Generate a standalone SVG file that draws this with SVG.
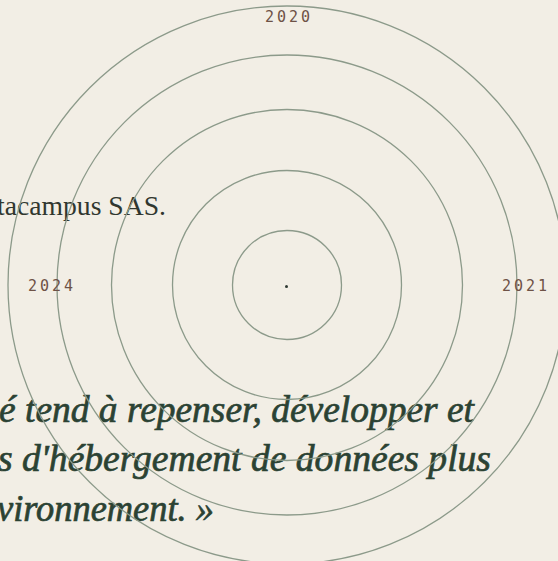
<svg xmlns="http://www.w3.org/2000/svg" width="558" height="561" viewBox="0 0 558 561">
<style>
.ring{fill:none;stroke:#8c9a8a;stroke-width:1.3}
.yr{font-family:"DejaVu Sans Mono",monospace;font-size:15px;fill:#6e5246;letter-spacing:3px}
.quote{font-family:"Liberation Serif",serif;font-style:italic;font-weight:normal;font-size:38px;fill:#2b4233;stroke:#2b4233;stroke-width:0.7}
.body{font-family:"Liberation Serif",serif;font-size:27.5px;fill:#30372f}
</style>
<rect width="558" height="561" fill="#f2eee5"/>
<text class="body" x="-3" y="215" textLength="169" lengthAdjust="spacingAndGlyphs">tacampus SAS.</text>
<g id="quote">
<text class="quote" x="-1" y="422" textLength="475" lengthAdjust="spacingAndGlyphs">é tend à repenser, développer et</text>
<text class="quote" x="-2" y="471" textLength="493" lengthAdjust="spacingAndGlyphs">s d'hébergement de données plus</text>
<text class="quote" x="-3" y="521" textLength="217" lengthAdjust="spacingAndGlyphs">vironnement. »</text>
</g>
<g id="rings">
<circle class="ring" cx="287" cy="285" r="54.5"/>
<circle class="ring" cx="287" cy="285" r="114.5"/>
<circle class="ring" cx="287" cy="285" r="175.5"/>
<circle class="ring" cx="287" cy="285" r="230"/>
<circle class="ring" cx="287" cy="285" r="279"/>
<circle cx="286.5" cy="286.5" r="1.5" fill="#2f3a33"/>
</g>
<g id="labels">
<text class="yr" x="265" y="22">2020</text>
<text class="yr" x="502" y="291">2021</text>
<text class="yr" x="28" y="291">2024</text>
</g>
</svg>
